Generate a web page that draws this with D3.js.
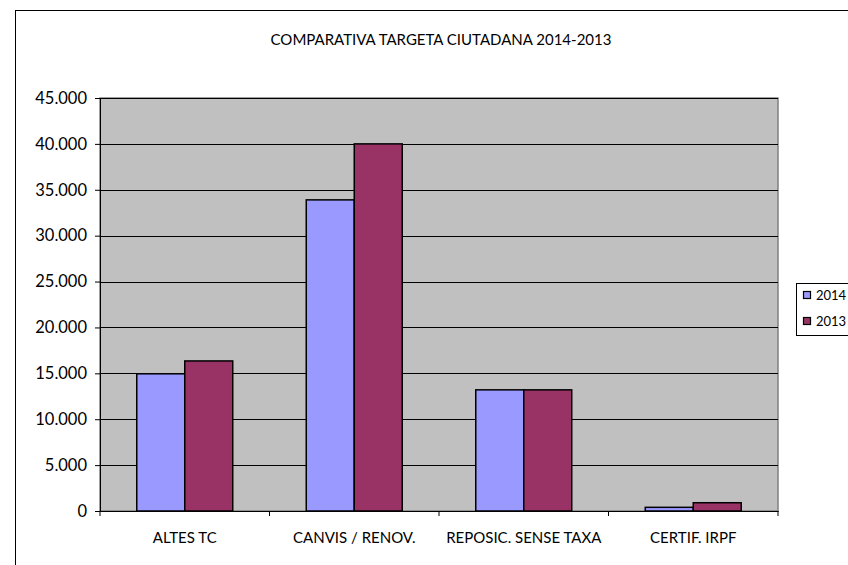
<!doctype html>
<html>
  <head>
    <meta charset="utf-8">
    <title>Comparativa</title>
    <script src="https://d3js.org/d3.v7.min.js"></script>
    <style>
      body { margin: 0; background: #fff; }
      svg { display: block; font-family: Lato, "Liberation Sans", Arial, sans-serif; }
    </style>
  </head>
  <body>
    <script>
      // dades
      const categories = ['ALTES TC', 'CANVIS / RENOV.', 'REPOSIC. SENSE TAXA', 'CERTIF. IRPF'];
      const seriesNames = ['2014', '2013'];
      const values2014 = [14950, 33900, 13200, 400];
      const values2013 = [16350, 40000, 13200, 900];
      const yTicks = [0, 5000, 10000, 15000, 20000, 25000, 30000, 35000, 40000, 45000];
      const colors = ['#9999ff', '#993366'];

      const width = 848, height = 565;
      const plot = { left: 100, top: 98, right: 778, bottom: 511 };
      const font = 'Lato, "Liberation Sans", Arial, sans-serif';

      const svg = d3.select('body').append('svg')
          .attr('width', width)
          .attr('height', height);

      // marc exterior
      svg.append('rect')
          .attr('x', 15.5).attr('y', 10.5)
          .attr('width', 900).attr('height', 600)
          .attr('fill', '#fff').attr('stroke', '#000').attr('stroke-width', 1);

      svg.append('text')
          .attr('x', 441).attr('y', 44.5)
          .attr('text-anchor', 'middle')
          .attr('font-size', 15)
          .text('COMPARATIVA TARGETA CIUTADANA 2014-2013');

      const x = d3.scaleBand()
          .domain(categories)
          .range([plot.left, plot.right]);

      const x1 = d3.scaleBand()
          .domain(seriesNames)
          .range([0, x.bandwidth()])
          .paddingOuter(0.766)
          .paddingInner(0);

      const y = d3.scaleLinear()
          .domain([0, 45000])
          .range([plot.bottom, plot.top]);

      // fons
      svg.append('rect')
          .attr('x', plot.left).attr('y', plot.top)
          .attr('width', plot.right - plot.left)
          .attr('height', plot.bottom - plot.top)
          .attr('fill', '#c0c0c0')
          .attr('stroke', '#808080').attr('stroke-width', 1.5);

      // línies de graella
      svg.append('g').selectAll('line')
        .data(yTicks.filter(d => d > 0))
        .enter().append('line')
          .attr('x1', plot.left).attr('x2', plot.right)
          .attr('y1', d => Math.round(y(d)) + 0.5)
          .attr('y2', d => Math.round(y(d)) + 0.5)
          .attr('stroke', '#000').attr('stroke-width', 1);

      const fmt = d => d === 0 ? '0' : d3.format(',')(d).replace(/,/g, '.');

      const yAxis = svg.append('g')
          .attr('transform', `translate(${plot.left},0)`)
          .call(d3.axisLeft(y).tickValues(yTicks).tickFormat(fmt).tickSize(5).tickPadding(8));
      yAxis.select('.domain').attr('stroke', '#000');
      yAxis.selectAll('text').attr('font-size', 16.5).attr('fill', '#000')
          .attr('font-family', font);

      const xAxis = svg.append('g')
          .attr('transform', `translate(0,${plot.bottom})`)
          .call(d3.axisBottom(x).tickSize(0).tickPadding(21));
      xAxis.select('.domain').attr('stroke', '#000');
      xAxis.selectAll('text').attr('font-size', 15).attr('fill', '#000')
          .attr('font-family', font);
      // marques entre categories
      xAxis.selectAll('.sep')
        .data(categories.map((c, i) => x.range()[0] + i * x.step()).concat([plot.right]))
        .enter().append('line')
          .attr('x1', d => d).attr('x2', d => d)
          .attr('y1', 0).attr('y2', 5)
          .attr('stroke', '#000');

      // barres
      const rows = categories.map((c, i) => ({ cat: c, vals: [values2014[i], values2013[i]] }));
      svg.append('g').selectAll('g')
        .data(rows)
        .enter().append('g')
          .attr('transform', d => `translate(${x(d.cat)},0)`)
        .selectAll('rect')
        .data(d => d.vals.map((v, j) => ({ key: seriesNames[j], v, j })))
        .enter().append('rect')
          .attr('x', d => x1(d.key))
          .attr('y', d => y(d.v))
          .attr('width', x1.bandwidth())
          .attr('height', d => y(0) - y(d.v))
          .attr('fill', d => colors[d.j])
          .attr('stroke', '#000').attr('stroke-width', 1.5);

      // llegenda
      const lg = svg.append('g').attr('transform', 'translate(796,283)');
      lg.append('rect')
          .attr('x', 0.5).attr('y', 0.5)
          .attr('width', 120).attr('height', 52)
          .attr('fill', '#fff').attr('stroke', '#000');
      const items = lg.selectAll('g.item')
        .data(seriesNames)
        .enter().append('g')
          .attr('transform', (d, i) => `translate(0,${i * 26})`);
      items.append('rect')
          .attr('x', 7.5).attr('y', 8.5)
          .attr('width', 7).attr('height', 7)
          .attr('fill', (d, i) => colors[i])
          .attr('stroke', '#000').attr('stroke-width', 1.2);
      items.append('text')
          .attr('x', 20).attr('y', 16.5)
          .attr('font-size', 13)
          .text(d => d);
    </script>
  </body>
</html>
